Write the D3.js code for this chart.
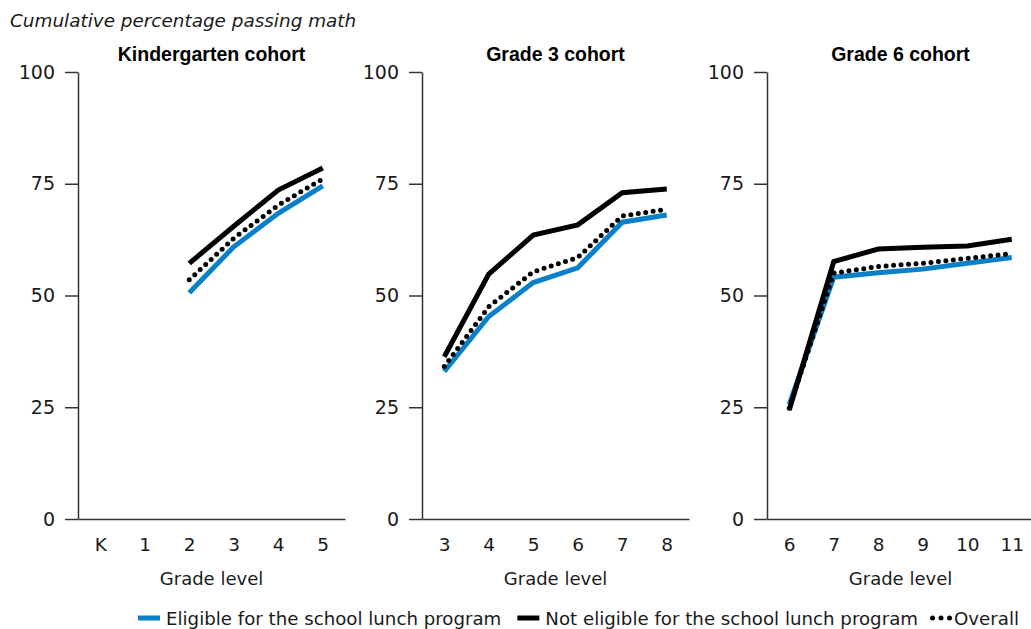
<!DOCTYPE html>
<html>
<head>
<meta charset="utf-8">
<script src="https://cdn.jsdelivr.net/npm/d3@7"></script>
<style>
  body { margin: 0; background: #fff; }
  svg { display: block; font-family: "DejaVu Sans", sans-serif; }
</style>
</head>
<body>
<svg id="chart" width="1031" height="629"></svg>
<script>
// values, percent passing
const cohortTitles = ['Kindergarten cohort', 'Grade 3 cohort', 'Grade 6 cohort'];

const gradesK = ['K', '1', '2', '3', '4', '5'];
const eligibleK = [null, null, 50.6, 60.9, 68.4, 74.5];
const notEligibleK = [null, null, 57.2, 65.5, 73.6, 78.5];
const overallK = [null, null, 53.5, 62.8, 70.2, 76.1];

const grades3 = ['3', '4', '5', '6', '7', '8'];
const eligible3 = [33.0, 45.3, 52.9, 56.2, 66.4, 68.0];
const notEligible3 = [36.3, 54.8, 63.5, 65.8, 73.0, 73.8];
const overall3 = [34.1, 47.5, 55.3, 58.5, 67.8, 69.3];

const grades6 = ['6', '7', '8', '9', '10', '11'];
const eligible6 = [25.6, 54.1, 55.1, 55.9, 57.2, 58.5];
const notEligible6 = [24.4, 57.6, 60.4, 60.8, 61.1, 62.6];
const overall6 = [24.8, 55.0, 56.5, 57.2, 58.3, 59.4];

const yTicks = [0, 25, 50, 75, 100];
const seriesNames = ['Eligible for the school lunch program', 'Not eligible for the school lunch program', 'Overall'];

const panels = [
  {title: cohortTitles[0], grades: gradesK, eligible: eligibleK, notEligible: notEligibleK, overall: overallK},
  {title: cohortTitles[1], grades: grades3, eligible: eligible3, notEligible: notEligible3, overall: overall3},
  {title: cohortTitles[2], grades: grades6, eligible: eligible6, notEligible: notEligible6, overall: overall6}
];

const blue = '#0a80c8';
const ink = '#1a1a1a';
const svg = d3.select('#chart');

const panelLeft = [78, 422, 767];
const panelWidth = 267;
const plotTop = 72, plotBottom = 519;

const y = d3.scaleLinear().domain([0, 100]).range([plotBottom, plotTop]);

svg.append('text')
   .attr('x', 10)
   .attr('y', 27)
   .attr('font-size', '18.4px')
   .attr('font-style', 'italic')
   .attr('fill', ink)
   .text('Cumulative percentage passing math');

panels.forEach(function(p, i){
  const left = panelLeft[i];
  const x = d3.scalePoint()
              .domain(p.grades)
              .range([left, left + panelWidth])
              .padding(0.5);
  const g = svg.append('g');

  // y axis
  const yAxis = g.append('g')
     .attr('transform', 'translate(' + left + ',0)')
     .call(d3.axisLeft(y).tickValues(yTicks).tickSize(13).tickSizeOuter(0).tickPadding(10));
  yAxis.selectAll('text').attr('font-size', '19px').attr('fill', ink).attr('font-family', 'DejaVu Sans');
  yAxis.selectAll('line, path').attr('stroke', '#333').attr('stroke-width', 1.5);

  // x axis
  const xAxis = g.append('g')
     .attr('transform', 'translate(0,' + plotBottom + ')')
     .call(d3.axisBottom(x).tickSize(0).tickSizeOuter(0).tickPadding(19));
  xAxis.selectAll('text').attr('font-size', '18.5px').attr('fill', ink).attr('font-family', 'DejaVu Sans');
  xAxis.select('.domain').attr('stroke', '#333').attr('stroke-width', 1.5);

  g.append('text')
   .attr('x', left + panelWidth/2)
   .attr('y', 585)
   .attr('text-anchor', 'middle')
   .attr('font-size', '18px')
   .attr('fill', ink)
   .text('Grade level');

  g.append('text')
   .attr('x', left + panelWidth/2)
   .attr('y', 61)
   .attr('text-anchor', 'middle')
   .attr('font-family', '"Liberation Sans", Arial, sans-serif')
   .attr('font-weight', 'bold')
   .attr('font-size', '19.5px')
   .attr('fill', '#000')
   .text(p.title);

  const line = d3.line()
     .defined(function(d){ return d.v !== null; })
     .x(function(d){ return x(d.g); })
     .y(function(d){ return y(d.v); });
  const pts = function(vals){ return p.grades.map(function(gr, k){ return {g: gr, v: vals[k]}; }); };

  g.append('path')
   .attr('d', line(pts(p.eligible)))
   .attr('fill', 'none')
   .attr('stroke', blue)
   .attr('stroke-width', 5);
  g.append('path')
   .attr('d', line(pts(p.overall)))
   .attr('fill', 'none')
   .attr('stroke', '#000')
   .attr('stroke-width', 5)
   .attr('stroke-linecap', 'round')
   .attr('stroke-dasharray', '0 7.5');
  g.append('path')
   .attr('d', line(pts(p.notEligible)))
   .attr('fill', 'none')
   .attr('stroke', '#000')
   .attr('stroke-width', 5);
});

// legend
const legend = svg.append('g');
let lx = 138;
const ly = 618;
seriesNames.forEach(function(name, i){
  if(i < 2){
    legend.append('line')
      .attr('x1', lx).attr('x2', lx + 22)
      .attr('y1', ly).attr('y2', ly)
      .attr('stroke', i === 0 ? blue : '#000')
      .attr('stroke-width', 5);
    lx += 28;
  } else {
    [0, 1, 2].forEach(function(k){
      legend.append('circle')
        .attr('cx', lx + 2.5 + k*8.5)
        .attr('cy', ly)
        .attr('r', 2.5)
        .attr('fill', '#000');
    });
    lx += 24;
  }
  const t = legend.append('text')
    .attr('x', lx)
    .attr('y', 625)
    .attr('font-size', '18.2px')
    .attr('fill', ink)
    .text(name);
  lx += t.node().getComputedTextLength() + (i === 0 ? 16 : 12);
});
</script>
</body>
</html>
